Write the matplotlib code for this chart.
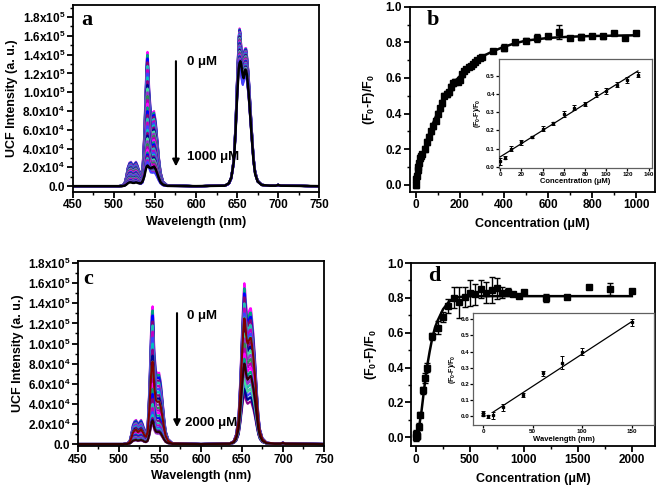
import numpy as np
import matplotlib
matplotlib.use("Agg")
import matplotlib.pyplot as plt
from matplotlib.ticker import AutoMinorLocator, FuncFormatter, MultipleLocator

plt.rcParams['font.family'] = ['Liberation Sans', 'DejaVu Sans']
plt.rcParams['font.weight'] = 'bold'
plt.rcParams['mathtext.default'] = 'regular'

# ---- spectra, panel a (intensity in units of 1e4) ----
wl = [450, 505, 510, 513, 515, 517, 519, 521, 523, 525, 527, 529, 531, 533, 535,
      537, 539, 540, 541, 542, 543, 545, 547, 549, 551, 553, 555, 557, 560, 565,
      600, 635, 640, 643, 646, 648, 650, 652, 653, 654, 655, 656, 657, 658, 659,
      660, 661, 662, 664, 666, 668, 670, 672, 675, 680, 690, 697, 700, 703, 750]
spec_a_0 = [0, 0, 0.05, 0.3, 1.0, 2.0, 2.5, 2.6, 2.2, 2.4, 2.6, 2.2, 1.6, 1.3, 2.0,
            5.5, 11.0, 13.5, 14.3, 13.0, 10.5, 8.0, 7.8, 8.0, 7.0, 5.0, 3.0, 1.5, 0.5, 0.1,
            0, 0.05, 0.3, 1.0, 3.0, 6.5, 11.5, 16.0, 16.8, 16.5, 15.0, 14.0, 13.5, 14.0, 14.5,
            14.7, 14.7, 14.0, 12.0, 9.0, 6.0, 3.2, 1.6, 0.6, 0.15, 0.05, 0.05, 0.15, 0.05, 0]
spec_a_1000 = [0, 0, 0, 0.05, 0.15, 0.3, 0.4, 0.4, 0.35, 0.35, 0.4, 0.35, 0.3, 0.3, 0.5,
               1.0, 1.8, 2.1, 2.2, 2.1, 2.0, 1.9, 2.0, 2.1, 1.8, 1.3, 0.8, 0.4, 0.15, 0.03,
               0, 0.05, 0.3, 0.9, 2.6, 5.5, 9.5, 12.5, 13.1, 13.3, 13.0, 12.3, 11.8, 11.5, 12.0,
               12.4, 12.3, 11.8, 10.0, 7.5, 5.0, 2.7, 1.3, 0.5, 0.12, 0.05, 0.05, 0.12, 0.05, 0]
green_peak_a = [14.3, 14.0, 13.6, 13.2, 12.8, 12.4, 12.0, 11.6, 11.2, 10.8, 10.4, 10.0,
                9.6, 9.2, 8.8, 8.4, 8.0, 7.6, 7.2, 6.8, 6.4, 6.0, 5.7, 5.4, 5.1, 4.8,
                4.5, 4.2, 3.9, 3.6, 3.4, 3.2, 3.0, 2.8, 2.6]
red_peak_a = [16.8, 16.7, 16.6, 16.5, 16.4, 16.3, 16.2, 16.1, 16.0, 15.9, 15.8, 15.7,
              15.6, 15.5, 15.4, 15.3, 15.2, 15.1, 15.0, 14.9, 14.8, 14.7, 14.6, 14.5,
              14.4, 14.3, 14.2, 14.1, 14.0, 13.9, 13.8, 13.7, 13.6, 13.5, 13.4]

# ---- spectra, panel c ----
spec_c_0 = [0, 0, 0.05, 0.3, 1.0, 1.9, 2.3, 2.4, 2.0, 2.2, 2.4, 2.0, 1.4, 1.2, 2.0,
            5.5, 11.0, 13.0, 13.7, 12.5, 9.5, 7.3, 7.0, 7.1, 6.2, 4.5, 2.7, 1.3, 0.5, 0.1,
            0, 0.05, 0.3, 1.0, 3.0, 6.5, 11.0, 15.0, 16.0, 15.3, 14.0, 13.2, 12.8, 13.0, 13.3,
            13.5, 13.5, 12.8, 11.0, 8.5, 5.6, 3.0, 1.5, 0.6, 0.15, 0.05, 0.05, 0.15, 0.05, 0]
green_peak_c = [13.7, 13.3, 12.8, 12.2, 11.8, 11.2, 10.6, 10.0, 9.4, 8.8, 8.2, 7.6,
                7.0, 6.5, 6.0, 5.5, 5.0, 4.5, 4.0, 3.6, 3.2, 2.9, 2.6, 2.4, 2.2, 2.0,
                8.2, 2.3]
red_peak_c = [16.0, 15.5, 15.0, 14.6, 14.0, 13.5, 13.0, 12.6, 12.0, 11.5, 11.0, 10.5,
              10.0, 9.5, 9.0, 8.5, 8.0, 7.5, 7.0, 6.5, 6.0, 5.5, 5.0, 5.5, 6.5, 7.5,
              12.5, 8.0]

# ---- titration, panel b ----
conc_b = [0, 2, 5, 8, 10, 15, 20, 25, 30, 40, 50, 60, 70, 80, 90, 100, 110, 120, 130,
          140, 150, 160, 170, 180, 190, 200, 210, 220, 230, 240, 250, 260, 270, 280,
          290, 300, 350, 400, 450, 500, 550, 600, 650, 700, 750, 800, 850, 900, 950, 1000]
resp_b = [0.0, 0.03, 0.05, 0.08, 0.10, 0.12, 0.15, 0.16, 0.17, 0.20, 0.24, 0.27, 0.30,
          0.33, 0.36, 0.40, 0.43, 0.46, 0.50, 0.51, 0.52, 0.55, 0.57, 0.58, 0.58, 0.59,
          0.62, 0.64, 0.65, 0.66, 0.67, 0.68, 0.69, 0.70, 0.71, 0.72, 0.75, 0.77, 0.80,
          0.81, 0.825, 0.835, 0.86, 0.825, 0.83, 0.835, 0.835, 0.855, 0.825, 0.855]
err_b = [0.02, 0.02, 0.015, 0.015, 0.015, 0.015, 0.015, 0.01, 0.01, 0.015, 0.015, 0.015,
         0.015, 0.015, 0.015, 0.015, 0.015, 0.015, 0.015, 0.015, 0.015, 0.015, 0.015,
         0.015, 0.015, 0.015, 0.015, 0.01, 0.01, 0.01, 0.01, 0.01, 0.01, 0.01, 0.01, 0.01,
         0.01, 0.02, 0.015, 0.015, 0.02, 0.015, 0.04, 0.01, 0.015, 0.01, 0.015, 0.01,
         0.01, 0.01]
fit_x_b = [0, 20, 40, 60, 80, 100, 125, 150, 175, 200, 250, 300, 350, 400, 450, 500,
           600, 700, 800, 1000]
fit_y_b = [0.0, 0.11, 0.20, 0.28, 0.35, 0.41, 0.48, 0.53, 0.575, 0.61, 0.67, 0.72,
           0.75, 0.775, 0.795, 0.81, 0.825, 0.832, 0.836, 0.84]
ins_x_b = [0, 5, 10, 20, 30, 40, 50, 60, 70, 80, 90, 100, 110, 120, 130]
ins_y_b = [0.03, 0.05, 0.10, 0.135, 0.165, 0.21, 0.24, 0.29, 0.325, 0.345, 0.40, 0.415,
           0.45, 0.475, 0.505]
ins_e_b = [0.02, 0.008, 0.015, 0.015, 0.005, 0.015, 0.008, 0.015, 0.015, 0.012, 0.015,
           0.015, 0.012, 0.015, 0.015]
ins_fit_x_b = [0, 130]
ins_fit_y_b = [0.055, 0.525]

# ---- titration, panel d ----
conc_d = [0, 2, 5, 10, 25, 40, 60, 80, 100, 150, 200, 250, 300, 350, 400, 450, 500,
          550, 600, 650, 700, 750, 800, 850, 900, 950, 1000, 1200, 1400, 1600, 1800, 2000]
resp_d = [0.0, 0.02, 0.01, 0.01, 0.06, 0.13, 0.27, 0.34, 0.40, 0.58, 0.63, 0.69, 0.755,
          0.80, 0.775, 0.805, 0.83, 0.82, 0.85, 0.83, 0.845, 0.855, 0.83, 0.835, 0.82,
          0.81, 0.835, 0.80, 0.805, 0.865, 0.85, 0.84]
err_d = [0.02, 0.02, 0.02, 0.02, 0.02, 0.015, 0.02, 0.03, 0.025, 0.02, 0.04, 0.03, 0.04,
         0.06, 0.09, 0.06, 0.075, 0.06, 0.05, 0.06, 0.075, 0.06, 0.03, 0.02, 0.01, 0.01,
         0.01, 0.025, 0.01, 0.01, 0.035, 0.01]
fit_x_d = [0, 25, 50, 75, 100, 125, 150, 175, 200, 250, 300, 350, 400, 500, 700, 2000]
fit_y_d = [0.0, 0.05, 0.15, 0.28, 0.40, 0.49, 0.57, 0.63, 0.67, 0.735, 0.775, 0.795,
           0.805, 0.81, 0.81, 0.81]
ins_x_d = [0, 0, 5, 10, 20, 40, 60, 80, 100, 150]
ins_y_d = [0.02, 0.01, 0.0, 0.005, 0.055, 0.13, 0.265, 0.33, 0.40, 0.58]
ins_e_d = [0.015, 0.01, 0.01, 0.02, 0.02, 0.012, 0.015, 0.04, 0.02, 0.02]
ins_fit_x_d = [10, 150]
ins_fit_y_d = [0.025, 0.585]

palette = ['#FF00FF', '#00A080', '#0000FF', '#800080', '#20C0B0', '#C000C0',
           '#4040FF', '#00C0C0', '#8B008B', '#000090', '#40E0A0', '#9932CC',
           '#2E8B57', '#B000B0']

mu = '\u03bcM'


def sci_fmt(v, pos):
    if abs(v) < 1:
        return '0.0'
    e = int(np.floor(np.log10(abs(v))))
    return '%.1fx10$^{%d}$' % (v / 10**e, e)


def style(ax, fs=8.5, lw=1.3, major=4, minor=2, color='black', pad=1.5):
    for s in ax.spines.values():
        s.set_linewidth(lw)
        s.set_color(color)
    ax.tick_params(which='major', direction='out', length=major, width=lw, labelsize=fs,
                   pad=pad)
    ax.tick_params(which='minor', direction='out', length=minor, width=lw * 0.8)
    ax.xaxis.set_minor_locator(AutoMinorLocator(2))
    ax.yaxis.set_minor_locator(AutoMinorLocator(2))
    for t in ax.get_xticklabels() + ax.get_yticklabels():
        t.set_fontweight('bold')


def spectra(ax, base, gpk, rpk, final, arrow_x, arrow_top, arrow_tip, t0, t1, t1_text,
            letter, letter_pos, dark_tail=0):
    w = np.array(wl)
    b = np.array(base) * 1e4
    green = w < 600
    g0 = max(b[green])
    r0 = max(b[~green])
    n = len(gpk)
    for i, (g, r) in enumerate(zip(gpk, rpk)):
        y = np.where(green, b * g * 1e4 / g0, b * r * 1e4 / r0)
        col = palette[i % len(palette)]
        if i >= n - dark_tail:
            col = '#800000' if i == n - dark_tail else '#300000'
        ax.plot(w, y, color=col, lw=1.5)
    if final is not None:
        ax.plot(w, np.array(final) * 1e4, color='black', lw=1.8)
    ax.set_xlim(450, 750)
    ax.xaxis.set_major_locator(MultipleLocator(50))
    ax.yaxis.set_major_locator(MultipleLocator(2e4))
    ax.yaxis.set_major_formatter(FuncFormatter(sci_fmt))
    ax.set_xlabel('Wavelength (nm)', fontsize=9, fontweight='bold', labelpad=3)
    ax.set_ylabel('UCF Intensity (a. u.)', fontsize=9, fontweight='bold', labelpad=3)
    ax.annotate('', xy=(arrow_x, arrow_tip), xytext=(arrow_x, arrow_top),
                arrowprops=dict(arrowstyle='-|>', color='black', lw=1.5, mutation_scale=10))
    ax.text(t0[0], t0[1], '0 ' + mu, fontsize=9.5, fontweight='bold', va='center')
    ax.text(t1[0], t1[1], t1_text, fontsize=9.5, fontweight='bold', va='center')
    ax.text(letter_pos[0], letter_pos[1], letter, transform=ax.transAxes, fontsize=16,
            fontweight='bold', family='Liberation Serif', va='center')
    style(ax)


def titration(ax, x, y, e, fx, fy, xlim, ylim, xstep, letter):
    ax.plot(fx, fy, color='black', lw=1.8, zorder=3)
    ax.errorbar(x, y, yerr=e, fmt='s', color='black', ms=4, elinewidth=1.0,
                capsize=2.2, capthick=1.0, zorder=4)
    ax.set_xlim(*xlim)
    ax.set_ylim(*ylim)
    ax.xaxis.set_major_locator(MultipleLocator(xstep))
    ax.yaxis.set_major_locator(MultipleLocator(0.2))
    ax.yaxis.set_major_formatter(FuncFormatter(lambda v, p: '%.1f' % v))
    ax.set_xlabel('Concentration (' + mu + ')', fontsize=9, fontweight='bold', labelpad=5)
    ax.set_ylabel('(F$_0$-F)/F$_0$', fontsize=9, fontweight='bold', labelpad=6)
    ax.text(0.07, 0.93, letter, transform=ax.transAxes, fontsize=16, fontweight='bold',
            family='Liberation Serif', va='center')
    style(ax)


def inset(ax, x, y, e, fx, fy, xlim, ylim, xstep, xlabel):
    ax.plot(fx, fy, color='black', lw=0.9, zorder=3)
    ax.errorbar(x, y, yerr=e, fmt='s', color='black', ms=2, elinewidth=0.7,
                capsize=1.3, capthick=0.7, zorder=4)
    ax.set_xlim(*xlim)
    ax.set_ylim(*ylim)
    ax.xaxis.set_major_locator(MultipleLocator(xstep))
    ax.yaxis.set_major_locator(MultipleLocator(0.1))
    ax.yaxis.set_major_formatter(FuncFormatter(lambda v, p: '%.1f' % v))
    ax.set_xlabel(xlabel, fontsize=5.5, fontweight='bold', labelpad=1)
    ax.set_ylabel('(F$_0$-F)/F$_0$', fontsize=5, fontweight='bold', labelpad=2)
    style(ax, fs=4.5, lw=0.9, major=2, minor=0, color='#606060', pad=1)
    ax.tick_params(which='major', color='black')
    ax.tick_params(which='minor', length=0)


fig = plt.figure(figsize=(6.61, 4.88), dpi=100)

ax_a = fig.add_axes([0.110, 0.607, 0.373, 0.383])
ax_a.set_ylim(-6000, 1.93e5)
spectra(ax_a, spec_a_0, green_peak_a, red_peak_a, spec_a_1000, 575.6, 13.6e4, 1.8e4,
        (589, 13.2e4), (589, 3.1e4), '1000 ' + mu, 'a', (0.035, 0.92))

ax_c = fig.add_axes([0.118, 0.086, 0.372, 0.379])
ax_c.set_ylim(-2000, 1.82e5)
spectra(ax_c, spec_c_0, green_peak_c, red_peak_c, None, 570.8, 13.3e4, 1.4e4,
        (583, 12.75e4), (581, 2.1e4), '2000 ' + mu, 'c', (0.02, 0.905), dark_tail=2)

ax_b = fig.add_axes([0.620, 0.607, 0.371, 0.379])
titration(ax_b, conc_b, resp_b, err_b, fit_x_b, fit_y_b, (-27, 1086), (-0.04, 1.0), 200, 'b')

ax_d = fig.add_axes([0.622, 0.086, 0.369, 0.375])
titration(ax_d, conc_d, resp_d, err_d, fit_x_d, fit_y_d, (-46, 2215), (-0.05, 1.0), 500, 'd')

ax_bi = fig.add_axes([0.755, 0.656, 0.231, 0.223])
inset(ax_bi, ins_x_b, ins_y_b, ins_e_b, ins_fit_x_b, ins_fit_y_b, (-1, 143), (-0.005, 0.59),
      20, 'Concentration (' + mu + ')')

ax_di = fig.add_axes([0.716, 0.129, 0.274, 0.230])
inset(ax_di, ins_x_d, ins_y_d, ins_e_d, ins_fit_x_d, ins_fit_y_d, (-10, 173), (-0.055, 0.64),
      50, 'Wavelength (nm)')

fig.savefig('out.png', dpi=100)
